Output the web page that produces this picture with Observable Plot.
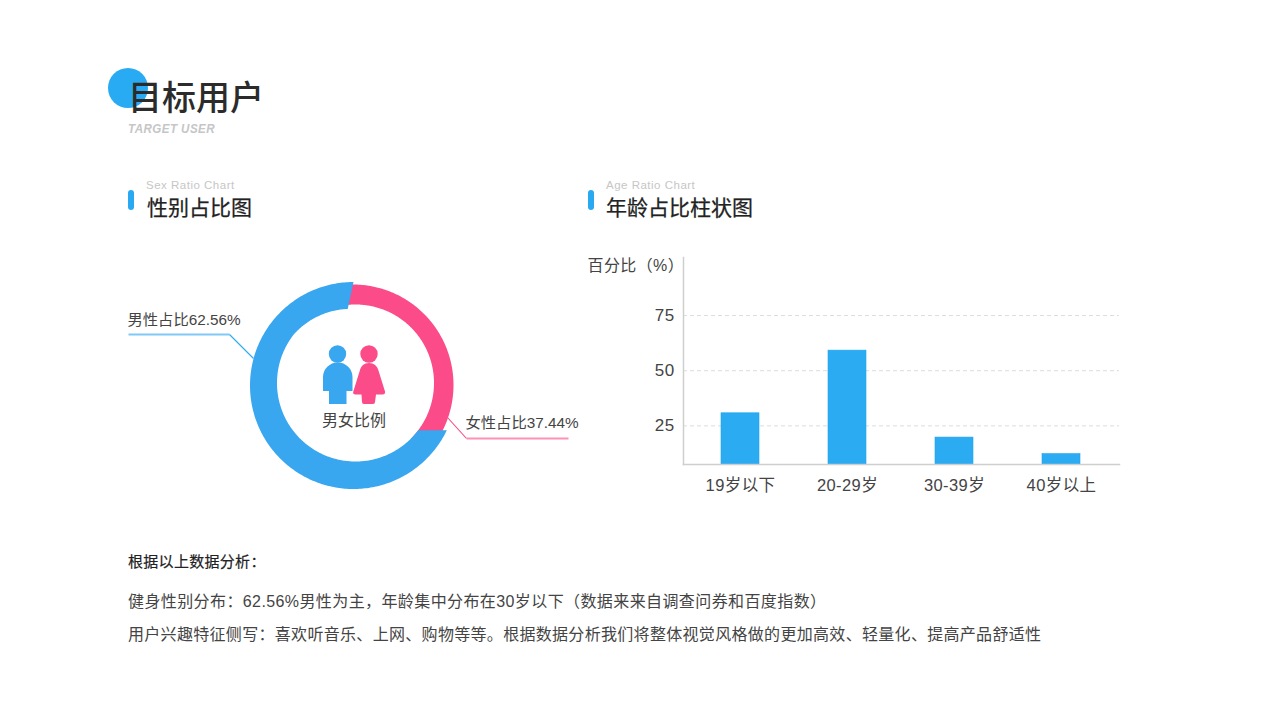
<!DOCTYPE html>
<html lang="zh"><head><meta charset="utf-8">
<script src="https://cdn.jsdelivr.net/npm/d3@7"></script>
<script src="https://cdn.jsdelivr.net/npm/@observablehq/plot@0.6"></script>
<style>
html,body{margin:0;padding:0;background:#fff;width:1280px;height:720px;overflow:hidden}
body{position:relative;font-family:"Liberation Sans","Noto Sans CJK SC",sans-serif}
.a{position:absolute;white-space:nowrap;line-height:1}
#dot{left:108px;top:68px;width:40px;height:40px;border-radius:50%;background:#29abf3}
#title{left:128px;top:81px;font-size:34px;font-weight:500;color:#2b2b2b}
#en{left:128px;top:122px;font-size:13.5px;font-weight:700;font-style:italic;color:#c6c6c6;letter-spacing:.5px;transform:scaleX(.86);transform-origin:left}
.pill{width:6px;height:20px;border-radius:3px;background:#2aa9f3;top:189.5px}
.sub{top:180px;font-size:11.5px;color:#c6c6c6;letter-spacing:.5px}
.head{top:197px;font-size:21px;color:#222;-webkit-text-stroke:.25px #222}
.body{left:128px;font-size:16px;letter-spacing:.4px;color:#444}
#donut,#bars,#icons{position:absolute}
#donut{left:120px;top:270px;width:460px;height:230px}
#bars{left:570px;top:240px;width:560px;height:260px}
#bars text{letter-spacing:.4px}
#icons{left:0;top:0;width:1280px;height:720px;pointer-events:none}
</style></head><body>
<div class="a" id="dot"></div>
<div class="a" id="title">目标用户</div>
<div class="a" id="en">TARGET USER</div>
<div class="a pill" style="left:128px"></div>
<div class="a sub" style="left:146px">Sex Ratio Chart</div>
<div class="a head" style="left:147px">性别占比图</div>
<div class="a pill" style="left:588px"></div>
<div class="a sub" style="left:606px">Age Ratio Chart</div>
<div class="a head" style="left:606px">年龄占比柱状图</div>
<div id="donut"></div>
<div id="bars"></div>
<svg id="icons" viewBox="0 0 1280 720">
  <circle cx="337.5" cy="354" r="8.7" fill="#39a6f0"/>
  <path d="M323,391V377A14.75,14.5 0 0 1 352.5,377V391H346.5V404H329V391Z" fill="#39a6f0"/>
  <circle cx="369" cy="354" r="8.7" fill="#fb4b88"/>
  <path d="M369,363C374,363 377,366 378.3,370L385,391.5Q385.5,394.5 382.5,394.5H376L375,402Q375,404 373,404H364Q362,404 362,402L361.5,394.5H355.5Q352.5,394.5 353.3,391.5L360,370C361,366 364,363 369,363Z" fill="#fb4b88"/>
</svg>
<div class="a body" style="top:554px;color:#222;font-size:15px;letter-spacing:.3px;-webkit-text-stroke:.2px #222">根据以上数据分析：</div>
<div class="a body" style="top:594px">健身性别分布：62.56%男性为主，年龄集中分布在30岁以下（数据来来自调查问券和百度指数）</div>
<div class="a body" style="top:627px;letter-spacing:.31px">用户兴趣特征侧写：喜欢听音乐、上网、购物等等。根据数据分析我们将整体视觉风格做的更加高效、轻量化、提高产品舒适性</div>
<script>
// Age chart
const ageGroups = ["19岁以下","20-29岁","30-39岁","40岁以上"];
const agePercent = [30.7, 59.1, 19.7, 12.2];
const ageTicks = [25, 50, 75];
// Sex chart
const sexNames = ["男性","女性"];
const sexPercent = [62.56, 37.44];
// Where the blue band starts and ends, in degrees clockwise from 12 o'clock
const maleOuterDegrees = [115.6, 360];
const maleInnerDegrees = [127, 354];

const FONT = '"Liberation Sans","Noto Sans CJK SC",sans-serif';

// ---- bars
const ageRows = ageGroups.map((g,i)=>({g,v:agePercent[i]}));
document.getElementById("bars").append(Plot.plot({
  width:560,height:260,marginLeft:113,marginRight:11,marginTop:17,marginBottom:36,
  style:{fontFamily:FONT,background:"transparent",overflow:"visible"},
  x:{type:"band",domain:ageGroups,range:[115.5,545.5],paddingInner:0.647,paddingOuter:0.3235,align:0.5,label:null},
  y:{domain:[7.5,101.3],label:null},
  marks:[
    Plot.ruleY(ageTicks,{stroke:"#dcdcdc",strokeDasharray:"4 3",strokeWidth:1}),
    Plot.barY(ageRows,{x:"g",y1:7.5,y2:"v",fill:"#2aabf2",stroke:"#1fa3ee",strokeWidth:.6}),
    Plot.frame({anchor:"left",stroke:"#cfcfcf",strokeWidth:1.5}),
    Plot.frame({anchor:"bottom",stroke:"#cfcfcf",strokeWidth:1.5}),
    Plot.axisY({ticks:ageTicks,tickSize:0,tickPadding:9,fontSize:17,fill:"#444",label:null,anchor:"left"}),
    Plot.axisX({tickSize:0,tickPadding:15,fontSize:16.5,fill:"#444",label:null}),
    Plot.text(["百分比（%）"],{frameAnchor:"top-left",dx:-96,dy:2,text:d=>d,fontSize:16,fill:"#444",textAnchor:"start"})
  ]
}));

// ---- donut, drawn in page pixels through linear x/y scales
function band(cxO,cyO,rO,cxI,cyI,rI,a0O,a1O,a0I,a1I,rIEnd=rI){
  const n=240,rows=[];
  for(let i=0;i<=n;i++){
    const t=i/n, o=(a0O+(a1O-a0O)*t)*Math.PI/180, q=(a0I+(a1I-a0I)*t)*Math.PI/180;
    const r=rI+(rIEnd-rI)*Math.max(0,(t-.8)/.2);
    rows.push({x1:cxO+rO*Math.sin(o),y1:cyO-rO*Math.cos(o),x2:cxI+r*Math.sin(q),y2:cyI-r*Math.cos(q)});
  }
  return rows;
}
const femaleBand = band(353,385,100.5,355.5,383,78.5,-15,135,-15,135);
const maleBand = band(353.5,385.5,103.5,355.5,383,78.5,maleOuterDegrees[0],maleOuterDegrees[1],maleInnerDegrees[0],maleInnerDegrees[1],74.5);
const leaderSegs=[
  {x1:128,y1:334,x2:229,y2:334,c:"#80c8f6",w:2},
  {x1:229,y1:334,x2:253,y2:358,c:"#2aabf2",w:1.1},
  {x1:447,y1:417,x2:466,y2:438,c:"#f2487f",w:1.1},
  {x1:466,y1:438,x2:568,y2:438,c:"#fd91b6",w:2}
];
const labelRows=[
  {x:127,y:320,t:sexNames[0]+"占比"+sexPercent[0]+"%"},
  {x:465,y:423,t:sexNames[1]+"占比"+sexPercent[1]+"%"}
];
document.getElementById("donut").append(Plot.plot({
  width:460,height:230,margin:0,
  style:{fontFamily:FONT,background:"transparent",overflow:"visible"},
  x:{domain:[120,580],range:[0,460],axis:null},
  y:{domain:[270,500],range:[0,230],axis:null},
  color:{type:"identity"},
  marks:[
    Plot.link(leaderSegs,{x1:"x1",y1:"y1",x2:"x2",y2:"y2",stroke:d=>d.c,strokeWidth:"w"}),
    Plot.area(femaleBand,{x1:"x1",y1:"y1",x2:"x2",y2:"y2",fill:"#fb4b88"}),
    Plot.area(maleBand,{x1:"x1",y1:"y1",x2:"x2",y2:"y2",fill:"#39a6f0"}),
    Plot.text(labelRows,{x:"x",y:"y",text:"t",textAnchor:"start",fontSize:15.3,fill:"#444"}),
    Plot.text(["男女比例"],{x:()=>353.5,y:()=>420,text:d=>d,fontSize:16,fill:"#444"})
  ]
}));
</script>
</body></html>
